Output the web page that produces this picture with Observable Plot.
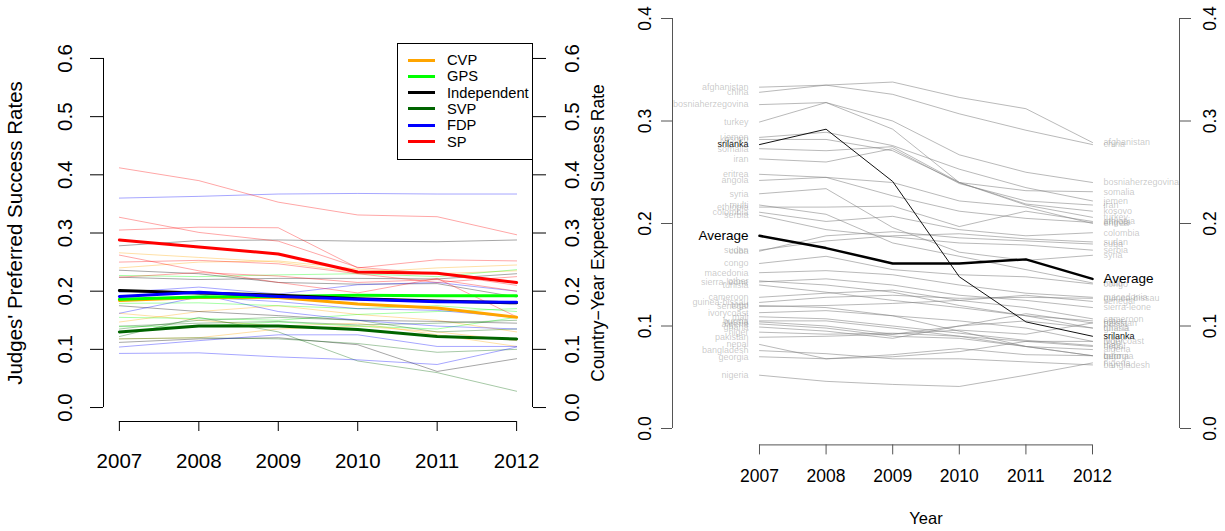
<!DOCTYPE html>
<html><head><meta charset="utf-8">
<script src="https://cdn.jsdelivr.net/npm/d3@7"></script>
<script src="https://cdn.jsdelivr.net/npm/@observablehq/plot@0.6"></script>
<style>
body{margin:0;background:#fff;}
#wrap{position:relative;width:1225px;height:531px;display:flex;background:#fff;}
#legend{position:absolute;left:397px;top:43px;width:134px;height:115px;border:1px solid #000;background:#fff;font-family:"Liberation Sans",Arial,sans-serif;font-size:14.7px;color:#000;}
#legend .sw{position:absolute;left:10px;width:27px;height:3px;}
#legend .lb{position:absolute;left:49px;line-height:16px;height:16px;white-space:nowrap;}
</style>
</head><body>
<div id="wrap"><div id="legend"></div></div>
<script>
// ---------- data ----------
const years = [2007, 2008, 2009, 2010, 2011, 2012];
const leftTicks = [0, 0.1, 0.2, 0.3, 0.4, 0.5, 0.6];
const rightTicks = [0, 0.1, 0.2, 0.3, 0.4];

const partyNames  = ["CVP", "GPS", "Independent", "SVP", "FDP", "SP"];
const partyColors = ["#FFA500", "#00FF00", "#000000", "#006400", "#0000FF", "#FF0000"];

// party means (thick lines)
const cvpMean = [0.184, 0.189, 0.189, 0.178, 0.171, 0.155];
const gpsMean = [0.186, 0.190, 0.191, 0.193, 0.192, 0.192];
const indMean = [0.201, 0.197, 0.193, 0.187, 0.183, 0.180];
const svpMean = [0.130, 0.140, 0.140, 0.134, 0.122, 0.118];
const fdpMean = [0.191, 0.198, 0.191, 0.186, 0.182, 0.181];
const spMean  = [0.288, 0.276, 0.264, 0.233, 0.231, 0.215];

// individual judges (thin lines)
const cvpJudges = [
  [0.266, 0.258, 0.250, 0.232, 0.240, 0.245],
  [0.240, 0.250, 0.252, 0.238, 0.230, 0.235],
  [0.147, 0.165, 0.175, 0.160, 0.150, 0.130],
  [0.118, 0.120, 0.135, 0.140, 0.130, 0.115],
  [0.162, 0.150, 0.140, 0.145, 0.125, 0.105]
];
const gpsJudges = [
  [0.227, 0.225, 0.228, 0.230, 0.225, 0.237],
  [0.179, 0.180, 0.175, 0.170, 0.175, 0.165],
  [0.155, 0.153, 0.150, 0.160, 0.165, 0.170],
  [0.139, 0.140, 0.147, 0.140, 0.135, 0.155]
];
const indJudges = [
  [0.278, 0.287, 0.288, 0.286, 0.285, 0.288],
  [0.236, 0.230, 0.215, 0.212, 0.213, 0.190],
  [0.224, 0.220, 0.222, 0.222, 0.221, 0.230],
  [0.112, 0.118, 0.120, 0.108, 0.062, 0.084],
  [0.175, 0.165, 0.158, 0.150, 0.148, 0.145]
];
const svpJudges = [
  [0.135, 0.150, 0.155, 0.150, 0.130, 0.135],
  [0.122, 0.155, 0.130, 0.080, 0.060, 0.028],
  [0.118, 0.120, 0.118, 0.110, 0.095, 0.100],
  [0.140, 0.145, 0.148, 0.142, 0.145, 0.150]
];
const fdpJudges = [
  [0.360, 0.363, 0.367, 0.368, 0.367, 0.367],
  [0.198, 0.207, 0.195, 0.211, 0.215, 0.200],
  [0.162, 0.190, 0.182, 0.170, 0.167, 0.155],
  [0.104, 0.115, 0.125, 0.125, 0.105, 0.105],
  [0.093, 0.094, 0.087, 0.082, 0.074, 0.104],
  [0.200, 0.195, 0.165, 0.150, 0.140, 0.135]
];
const spJudges = [
  [0.412, 0.390, 0.353, 0.331, 0.328, 0.297],
  [0.327, 0.301, 0.286, 0.241, 0.230, 0.210],
  [0.305, 0.310, 0.309, 0.240, 0.254, 0.252],
  [0.262, 0.235, 0.215, 0.197, 0.222, 0.156],
  [0.250, 0.253, 0.247, 0.230, 0.215, 0.225],
  [0.224, 0.232, 0.226, 0.215, 0.220, 0.200]
];

// right panel: country-year expected success rates
const countryNames = [
  "afghanistan","china","bosniaherzegovina","turkey","jemen","kosovo","somalia","iran",
  "eritrea","angola","syria","multi","ethiopia","colombia","serbia","sudan","cuba","congo",
  "macedonia","sierra-leone","other","tunisia","cameroon","guinea-bissau","senegal","togo",
  "ivorycoast","mali","burma","russia","algeria","ghana","niger","pakistan","nepal",
  "bangladesh","georgia","nigeria"
];
const countryValues = [
  [0.333, 0.335, 0.338, 0.323, 0.312, 0.279],
  [0.328, 0.335, 0.326, 0.307, 0.291, 0.277],
  [0.316, 0.318, 0.300, 0.267, 0.250, 0.240],
  [0.299, 0.318, 0.292, 0.240, 0.218, 0.206],
  [0.284, 0.289, 0.276, 0.253, 0.235, 0.222],
  [0.282, 0.282, 0.271, 0.240, 0.219, 0.212],
  [0.273, 0.271, 0.275, 0.240, 0.232, 0.231],
  [0.263, 0.260, 0.273, 0.239, 0.222, 0.218],
  [0.248, 0.245, 0.240, 0.222, 0.216, 0.200],
  [0.242, 0.245, 0.227, 0.212, 0.205, 0.201],
  [0.229, 0.234, 0.196, 0.172, 0.164, 0.169],
  [0.218, 0.209, 0.181, 0.168, 0.155, 0.142],
  [0.216, 0.216, 0.217, 0.197, 0.212, 0.202],
  [0.211, 0.202, 0.207, 0.194, 0.188, 0.191],
  [0.208, 0.194, 0.187, 0.181, 0.179, 0.174],
  [0.174, 0.183, 0.188, 0.190, 0.185, 0.182],
  [0.173, 0.188, 0.192, 0.186, 0.183, 0.180],
  [0.161, 0.168, 0.155, 0.150, 0.148, 0.141],
  [0.152, 0.154, 0.150, 0.140, 0.132, 0.128],
  [0.143, 0.146, 0.140, 0.130, 0.125, 0.118],
  [0.144, 0.140, 0.133, 0.120, 0.110, 0.105],
  [0.140, 0.133, 0.125, 0.118, 0.110, 0.098],
  [0.128, 0.132, 0.135, 0.125, 0.118, 0.107],
  [0.123, 0.128, 0.130, 0.127, 0.128, 0.127],
  [0.119, 0.120, 0.122, 0.125, 0.130, 0.124],
  [0.120, 0.118, 0.110, 0.095, 0.080, 0.071],
  [0.113, 0.115, 0.110, 0.105, 0.098, 0.085],
  [0.109, 0.107, 0.100, 0.093, 0.086, 0.081],
  [0.105, 0.105, 0.098, 0.090, 0.080, 0.071],
  [0.104, 0.100, 0.092, 0.096, 0.092, 0.103],
  [0.102, 0.098, 0.090, 0.088, 0.080, 0.077],
  [0.099, 0.095, 0.088, 0.100, 0.105, 0.098],
  [0.094, 0.092, 0.093, 0.090, 0.085, 0.085],
  [0.089, 0.090, 0.092, 0.100, 0.112, 0.103],
  [0.082, 0.068, 0.070, 0.075, 0.085, 0.080],
  [0.076, 0.073, 0.068, 0.068, 0.065, 0.062],
  [0.070, 0.068, 0.072, 0.078, 0.072, 0.071],
  [0.052, 0.046, 0.043, 0.041, 0.052, 0.064]
];
const sriLanka = [0.277, 0.292, 0.241, 0.148, 0.104, 0.090];
const average  = [0.188, 0.176, 0.161, 0.161, 0.165, 0.146];

// ---------- build tables ----------
const partyMeans  = [cvpMean, gpsMean, indMean, svpMean, fdpMean, spMean];
const partyJudges = [cvpJudges, gpsJudges, indJudges, svpJudges, fdpJudges, spJudges];

const thinRows = [], meanRows = [];
partyNames.forEach((p, i) => {
  partyJudges[i].forEach((series, j) => series.forEach((v, k) =>
    thinRows.push({id: p + j, year: years[k], value: v, color: partyColors[i]})));
  partyMeans[i].forEach((v, k) => meanRows.push({party: p, year: years[k], value: v, color: partyColors[i]}));
});

const countryRows = [];
countryNames.forEach((c, i) => countryValues[i].forEach((v, k) =>
  countryRows.push({name: c, year: years[k], value: v})));
const sriRows = sriLanka.map((v, k) => ({name: "srilanka", year: years[k], value: v}));
const avgRows = average.map((v, k) => ({name: "Average", year: years[k], value: v}));
const first = years[0], last = years[years.length - 1];
const startRows = countryRows.filter(d => d.year === first);
const endRows = countryRows.filter(d => d.year === last);

const font = '"Liberation Sans", Arial, Helvetica, sans-serif';
const fmt1 = d => d.toFixed(1);

// ---------- left panel ----------
const xL = [2006.8, 2012.2];
const yL = [-0.024, 0.624];
const leftPlot = Plot.plot({
  width: 612, height: 531,
  marginLeft: 103, marginRight: 80, marginTop: 44, marginBottom: 110,
  x: {domain: xL, axis: null},
  y: {domain: yL, axis: null},
  style: {fontFamily: font, background: "white", color: "black"},
  marks: [
    Plot.line(thinRows, {x: "year", y: "value", z: "id", stroke: "color", strokeOpacity: 0.35, strokeWidth: 1}),
    Plot.line(meanRows, {x: "year", y: "value", z: "party", stroke: "color", strokeWidth: 3}),
    Plot.ruleX([xL[0]], {y1: leftTicks[0], y2: leftTicks[leftTicks.length - 1], stroke: "black"}),
    Plot.ruleX([xL[1]], {y1: leftTicks[0], y2: leftTicks[leftTicks.length - 1], stroke: "black"}),
    Plot.ruleY([yL[0]], {x1: first, x2: last, stroke: "black"}),
    Plot.axisY(leftTicks, {anchor: "left", tickSize: 13, tickFormat: () => "", label: null, stroke: "black"}),
    Plot.axisY(leftTicks, {anchor: "right", tickSize: 13, tickFormat: () => "", label: null, stroke: "black"}),
    Plot.text(leftTicks, {y: d => d, text: fmt1, frameAnchor: "left", textAnchor: "middle", lineAnchor: "middle", dx: -38, rotate: -90, fontSize: 20.5, fill: "black"}),
    Plot.text(leftTicks, {y: d => d, text: fmt1, frameAnchor: "right", textAnchor: "middle", lineAnchor: "middle", dx: 40, rotate: -90, fontSize: 20.5, fill: "black"}),
    Plot.axisX(years, {anchor: "bottom", tickSize: 10, tickPadding: 22, tickFormat: d => String(d), fontSize: 20.5, label: null, stroke: "black", fill: "black"}),
    Plot.text(["Judges' Preferred Success Rates"], {y: () => 0.3, text: d => d, frameAnchor: "left", textAnchor: "middle", lineAnchor: "middle", dx: -88, rotate: -90, fontSize: 20.5, fill: "black"}),
    Plot.text(["Country\u2212Year Expected Success Rate"], {y: () => 0.3, text: d => d, frameAnchor: "right", textAnchor: "middle", lineAnchor: "middle", dx: 66, rotate: -90, fontSize: 17.5, fill: "black"})
  ]
});

// ---------- right panel ----------
const xR = [2005.694, 2013.306];
const yR = [-0.016, 0.416];
const axisGray = "#555555";
const rightPlot = Plot.plot({
  width: 613, height: 531,
  marginLeft: 60, marginRight: 46, marginTop: 1.6, marginBottom: 86.6,
  x: {domain: xR, axis: null},
  y: {domain: yR, axis: null},
  style: {fontFamily: font, background: "white", color: "black"},
  marks: [
    Plot.line(countryRows, {x: "year", y: "value", z: "name", stroke: "#808080", strokeOpacity: 0.55, strokeWidth: 1}),
    Plot.line(sriRows, {x: "year", y: "value", stroke: "#111", strokeWidth: 1}),
    Plot.line(avgRows, {x: "year", y: "value", stroke: "black", strokeWidth: 2.5}),
    Plot.text(startRows, {x: "year", y: "value", text: "name", textAnchor: "end", dx: -11, fontSize: 9, fill: "#808080", fillOpacity: 0.42}),
    Plot.text(endRows, {x: "year", y: "value", text: "name", textAnchor: "start", dx: 11, fontSize: 9, fill: "#808080", fillOpacity: 0.42}),
    Plot.text([sriRows[0]], {x: "year", y: "value", text: "name", textAnchor: "end", dx: -11, fontSize: 9, fill: "#111"}),
    Plot.text([sriRows[sriRows.length - 1]], {x: "year", y: "value", text: "name", textAnchor: "start", dx: 11, fontSize: 9, fill: "#111"}),
    Plot.text([avgRows[0]], {x: "year", y: "value", text: "name", textAnchor: "end", dx: -11, fontSize: 13.5, fill: "black"}),
    Plot.text([avgRows[avgRows.length - 1]], {x: "year", y: "value", text: "name", textAnchor: "start", dx: 11, fontSize: 13.5, fill: "black"}),
    Plot.ruleX([xR[0]], {y1: rightTicks[0], y2: rightTicks[rightTicks.length - 1], stroke: axisGray}),
    Plot.ruleX([xR[1]], {y1: rightTicks[0], y2: rightTicks[rightTicks.length - 1], stroke: axisGray}),
    Plot.ruleY([yR[0]], {x1: first, x2: last, stroke: axisGray}),
    Plot.axisY(rightTicks, {anchor: "left", tickSize: 11, tickFormat: () => "", label: null, stroke: axisGray}),
    Plot.axisY(rightTicks, {anchor: "right", tickSize: 11, tickFormat: () => "", label: null, stroke: axisGray}),
    Plot.text(rightTicks, {y: d => d, text: fmt1, frameAnchor: "left", textAnchor: "middle", lineAnchor: "middle", dx: -27, rotate: -90, fontSize: 17.5, fill: "black"}),
    Plot.text(rightTicks, {y: d => d, text: fmt1, frameAnchor: "right", textAnchor: "middle", lineAnchor: "middle", dx: 31, rotate: -90, fontSize: 17.5, fill: "black"}),
    Plot.axisX(years, {anchor: "bottom", tickSize: 10, tickPadding: 15, tickFormat: d => String(d), fontSize: 17.5, label: null, stroke: axisGray, fill: "black"}),
    Plot.text(["Year"], {text: d => d, frameAnchor: "bottom", textAnchor: "middle", lineAnchor: "middle", dy: 74, fontSize: 16.5, fill: "black"})
  ]
});

const wrap = document.getElementById("wrap");
wrap.insertBefore(rightPlot, wrap.firstChild);
wrap.insertBefore(leftPlot, rightPlot);

// legend
const legend = document.getElementById("legend");
partyNames.forEach((p, i) => {
  const cy = 16 + i * 16.3;
  const sw = document.createElement("div");
  sw.className = "sw"; sw.style.top = (cy - 1.5) + "px"; sw.style.background = partyColors[i];
  const lb = document.createElement("div");
  lb.className = "lb"; lb.style.top = (cy - 8) + "px"; lb.textContent = p;
  legend.appendChild(sw); legend.appendChild(lb);
});
</script>
</body></html>
